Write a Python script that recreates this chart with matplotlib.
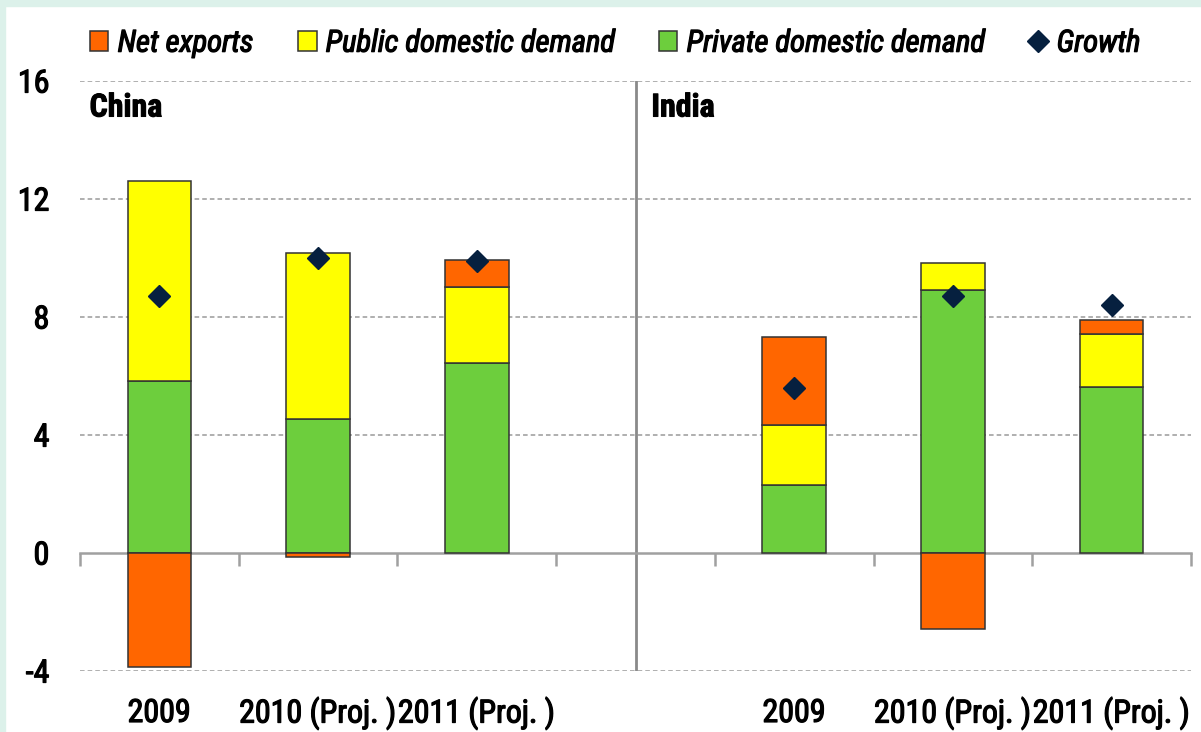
import numpy as np
import matplotlib
matplotlib.use("Agg")
import matplotlib.pyplot as plt
from matplotlib.patches import Patch, Rectangle
from matplotlib.lines import Line2D
import matplotlib.transforms as mtransforms
import matplotlib.patheffects as pe
from matplotlib import font_manager

# ---- data ----
countries = ["China", "India"]
years = ["2009", "2010 (Proj. )", "2011 (Proj. )"]
china_private = [5.83, 4.54, 6.45]
china_public = [6.78, 5.62, 2.57]
china_net = [-3.86, -0.13, 0.90]
china_growth = [8.7, 10.0, 9.9]
india_private = [2.31, 8.92, 5.63]
india_public = [2.03, 0.91, 1.79]
india_net = [2.98, -2.58, 0.47]
india_growth = [5.6, 8.7, 8.4]
series_names = ["Net exports", "Public domestic demand", "Private domestic demand", "Growth"]
yticks = [-4, 0, 4, 8, 12, 16]

# ---- pick a condensed font if one is installed ----
fl = font_manager.fontManager.ttflist
names = {f.name for f in fl}
family, stretch, fs = None, "normal", 23
for cand in ["Roboto Condensed", "Liberation Sans Narrow", "Open Sans Condensed",
             "Noto Sans Condensed", "DejaVu Sans Condensed", "Arial Narrow"]:
    if cand in names:
        family = cand
        break
if family is None:
    for f in fl:
        if f.stretch in ("condensed", "semi-condensed", "extra-condensed", "ultra-condensed") or \
           (isinstance(f.stretch, int) and f.stretch < 500):
            family = f.name
            stretch = "condensed"
            break
if family is None:
    family = "Roboto" if "Roboto" in names else "DejaVu Sans"
    fs = 18.5
plt.rcParams['font.family'] = [family, 'DejaVu Sans']
plt.rcParams['font.stretch'] = stretch

thick = [pe.withStroke(linewidth=0.9, foreground="black")]
thicker = [pe.withStroke(linewidth=0.7, foreground="black")]

c_net = "#FF6600"
c_pub = "#FFFF00"
c_priv = "#6DCE3D"
c_growth = "#06203F"
mint = "#DCF1EA"

fig = plt.figure(figsize=(12.01, 7.32), dpi=100, facecolor="white")
fig.patches.append(Rectangle((0, 0), 4.5 / 1201, 1, transform=fig.transFigure, color=mint, zorder=0))
fig.patches.append(Rectangle((0, 1 - 6 / 732), 1, 6 / 732, transform=fig.transFigure, color=mint, zorder=0))

ax = fig.add_axes([80 / 1201, 61 / 732, 1111 / 1201, 590 / 732])
ax.set_facecolor("white")

blocks = [
    (0, china_private, china_public, china_net, china_growth),
    (4, india_private, india_public, india_net, india_growth),
]
width = 0.4
edge = "#333333"
for start, priv, pub, net, gro in blocks:
    x = start + np.arange(len(years))
    priv = np.array(priv); pub = np.array(pub); net = np.array(net)
    ax.bar(x, priv, width, color=c_priv, edgecolor=edge, linewidth=1.1, zorder=3)
    ax.bar(x, pub, width, bottom=priv, color=c_pub, edgecolor=edge, linewidth=1.1, zorder=3)
    net_bottom = np.where(net >= 0, priv + pub, 0)
    ax.bar(x, net, width, bottom=net_bottom, color=c_net, edgecolor=edge, linewidth=1.1, zorder=3)
    ax.plot(x, gro, linestyle="none", marker="D", markersize=11.5,
            color=c_growth, markeredgecolor=c_growth, zorder=5)

ncat = 7
ax.set_xlim(-0.5, ncat - 0.5)
ax.set_ylim(-4, 16)

ax.set_yticks(yticks)
ax.set_yticklabels([str(v) for v in yticks], fontsize=fs)
for t in ax.get_yticklabels():
    t.set_path_effects(thick)
ax.tick_params(axis="y", length=0, pad=22)
for v in yticks:
    if v != 0:
        ax.axhline(v, color="#9A9A9A", linewidth=1.1, linestyle=(0, (3, 2)), zorder=1)

for s in ["top", "right", "left"]:
    ax.spines[s].set_visible(False)
ax.spines["bottom"].set_position(("data", 0))
ax.spines["bottom"].set_color("#A0A0A0")
ax.spines["bottom"].set_linewidth(1.8)
ax.set_xticks(np.arange(ncat + 1) - 0.5)
ax.set_xticklabels([])
ax.tick_params(axis="x", direction="out", length=9, width=1.8, color="#A0A0A0")

trans = mtransforms.blended_transform_factory(ax.transData, ax.transAxes)
for start, *_ in blocks:
    for i, lab in enumerate(years):
        ax.text(start + i, -0.072, lab, transform=trans, ha="center", va="center",
                fontsize=fs, color="black", path_effects=thick)

ax.plot([3, 3], [-4, 16], color="#8A8A8A", linewidth=2.0, zorder=2)

ax.text(-0.44, 15.1, countries[0], fontsize=fs, fontweight="bold", va="center", ha="left",
        path_effects=thicker)
ax.text(3.1, 15.1, countries[1], fontsize=fs, fontweight="bold", va="center", ha="left",
        path_effects=thicker)

handles = [
    Patch(facecolor=c_net, edgecolor=edge, linewidth=1.1),
    Patch(facecolor=c_pub, edgecolor=edge, linewidth=1.1),
    Patch(facecolor=c_priv, edgecolor=edge, linewidth=1.1),
    Line2D([], [], linestyle="none", marker="D", markersize=11.5, color=c_growth),
]
lfs = fs - 1
leg = fig.legend(handles, series_names, loc="center", bbox_to_anchor=(0.512, 0.941), ncol=4,
                 frameon=False, prop={"size": lfs, "style": "italic"},
                 handlelength=0.62, handleheight=0.62, handletextpad=0.3, columnspacing=1.45)
for t in leg.get_texts():
    t.set_path_effects(thick)

fig.savefig("out.png", dpi=100, facecolor=fig.get_facecolor())
